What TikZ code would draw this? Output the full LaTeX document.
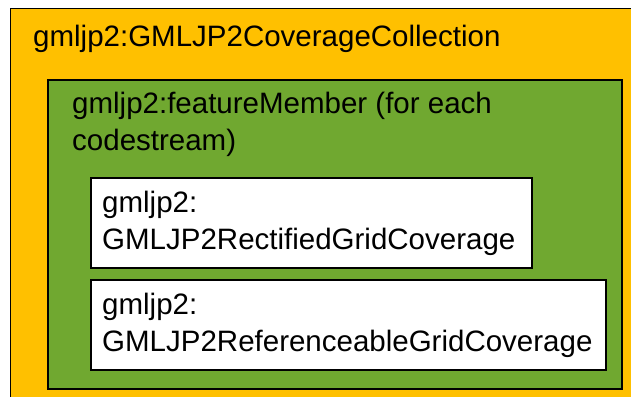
\documentclass[tikz,border=0pt]{standalone}
\usepackage{fontspec}
\setmainfont{Liberation Sans}
\definecolor{collorange}{RGB}{255,192,0}
\definecolor{membergreen}{RGB}{112,168,48}
\tikzset{
    boxline/.style={draw=black, line width=1.5pt},
    boxtext/.style={anchor=base west, inner sep=0pt, align=left,
        font=\fontsize{29.5}{37}\selectfont}
}
\begin{document}
\begin{tikzpicture}[x=1pt, y=-1pt]
    \useasboundingbox (0,0) rectangle (631,396);
    %A kulso doboz jobbra es lent kilog a kepbol
    \begin{scope}
        \clip (0,0) rectangle (631,396);
        \filldraw[boxline, fill=collorange] (10.5,8.5) rectangle (650,420);
    \end{scope}
    \node[boxtext] (collection) at (33,47) {gmljp2:GMLJP2CoverageCollection};
    %Zold doboz, a tobbsoros szoveg az utolso sor alapvonalahoz igazodik
    \filldraw[boxline, fill=membergreen] (48,80) rectangle (622,389);
    \node[boxtext] (member) at (72,150) {gmljp2:featureMember (for each\\codestream)};
    %Feher dobozok
    \filldraw[boxline, fill=white] (91,178) rectangle (532,268);
    \node[boxtext] (rectified) at (102,249) {gmljp2:\\GMLJP2RectifiedGridCoverage};
    \filldraw[boxline, fill=white] (91,280) rectangle (606,370);
    \node[boxtext] (referenceable) at (102,351) {gmljp2:\\GMLJP2ReferenceableGridCoverage};
\end{tikzpicture}
\end{document}
